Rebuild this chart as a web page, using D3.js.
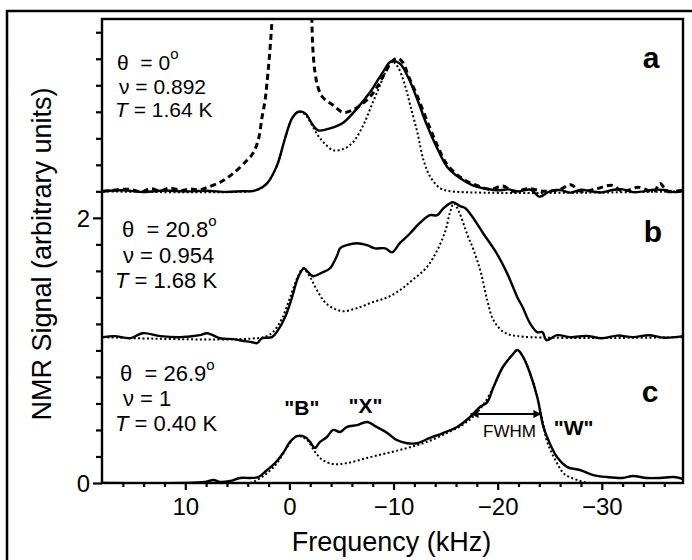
<!DOCTYPE html>
<html>
<head>
<meta charset="utf-8">
<script src="https://cdn.jsdelivr.net/npm/d3@7"></script>
<style>
  html, body { margin: 0; padding: 0; background: #fff; }
  svg { display: block; font-family: "Liberation Sans", Arial, Helvetica, sans-serif; }
</style>
</head>
<body>
<svg id="chart" width="692" height="560"></svg>
<script>
// ---------------- DATA ----------------
const xDomain = [18, -37.8];
const yDomain = [0, 3.5];
const xMajorTicks = [10, 0, -10, -20, -30];
const xMinorTicks = [16, 14, 12, 8, 6, 4, 2, -2, -4, -6, -8, -12, -14, -16, -18, -22, -24, -26, -28, -32, -34, -36];
const yTickValues = [0, 0.2, 0.4, 0.6, 0.8, 1.0, 1.2, 1.4, 1.6, 1.8, 2.0, 2.2, 2.4, 2.6, 2.8, 3.0, 3.2, 3.4];
const yTickLabels = { 0: "0", 2: "2" };

// vertical offsets of spectra a, b, c
const offsets = { a: 2.2, b: 1.1, c: 0 };

// spectrum a: [frequency kHz, signal]
const aSolid = [[17.9,0],[16,0.008],[14,-0.005],[12,0.006],[10,0],[8,0.004],[6,-0.004],[4.5,0.002],[3.8,0],[3.0,0.015],[2.15,0.06],[1.19,0.196],[0.42,0.40],[-0.25,0.55],[-0.83,0.60],[-1.5,0.59],[-2.17,0.51],[-2.75,0.46],[-3.9,0.475],[-5.2,0.52],[-6.5,0.626],[-7.74,0.747],[-8.9,0.89],[-9.76,0.98],[-10.6,0.965],[-11.4,0.86],[-12.25,0.70],[-13.2,0.50],[-14.2,0.324],[-15.2,0.18],[-16.4,0.098],[-17.6,0.045],[-18.6,0.023],[-20.2,0.008],[-21,0.015],[-22,0.0],[-23.2,0.012],[-24,-0.04],[-25,0.0],[-26,0.01],[-27,-0.01],[-28,0.012],[-29,0.0],[-30,-0.008],[-31,0.01],[-32,0.015],[-33,-0.006],[-34,0.0],[-35,0.012],[-36,0.01],[-37,-0.006],[-37.8,0.0]];
const aDotted = [[17.9,0],[3.8,0],[3.0,0.015],[2.15,0.06],[1.19,0.196],[0.42,0.40],[-0.25,0.55],[-0.83,0.60],[-1.5,0.58],[-2.17,0.50],[-2.75,0.42],[-3.4,0.36],[-4.2,0.31],[-5.2,0.32],[-6.1,0.37],[-7.1,0.50],[-7.9,0.65],[-8.7,0.80],[-9.4,0.93],[-9.85,0.98],[-10.4,0.94],[-11.1,0.80],[-11.6,0.65],[-12.3,0.44],[-12.9,0.23],[-13.6,0.10],[-14.5,0.023],[-15.6,0],[-37.8,0]];
const aDashed = [[17.9,0],[16.5,0.012],[15.3,0.015],[14.2,-0.004],[13.4,0.02],[12.4,0.004],[11.5,0.025],[10.4,0.006],[9.5,0.018],[8.7,0.01],[7.9,0.03],[6.67,0.068],[5.4,0.136],[4.07,0.234],[3.5,0.287],[3.0,0.385],[2.63,0.558],[2.34,0.686],[2.15,0.822],[1.86,1.078],[1.6,1.4],[1.45,1.9],[-0.25,2.8],[-1.95,1.9],[-2.12,1.4],[-2.25,1.078],[-2.46,0.897],[-2.75,0.784],[-3.2,0.709],[-4.2,0.649],[-5.15,0.596],[-6.0,0.611],[-6.8,0.649],[-7.7,0.709],[-8.4,0.784],[-9.2,0.897],[-9.95,0.988],[-10.4,1.003],[-10.9,0.973],[-11.4,0.875],[-12.25,0.724],[-13.2,0.535],[-14.2,0.347],[-15.2,0.196],[-16.7,0.09],[-18.0,0.045],[-19.3,0.015],[-20.5,0.04],[-21.5,0.0],[-23,0.02],[-24.5,0.0],[-26,0.015],[-27,0.05],[-28,0.0],[-29.5,0.02],[-31,0.045],[-32,0.0],[-33.5,0.03],[-35,0.0],[-35.6,0.06],[-36.3,0.0],[-37.8,0.01]];

// spectrum b
const bSolid = [[17.9,0],[16.8,0.008],[15.3,-0.008],[14.1,0.03],[12.4,0.008],[10.5,0],[8.6,0.015],[7.9,0.03],[6.67,-0.008],[5.4,-0.015],[4.26,-0.03],[3.6,-0.038],[3.1,-0.045],[2.63,-0.008],[1.67,0],[1.1,0.053],[0.42,0.15],[-0.25,0.30],[-0.83,0.45],[-1.4,0.52],[-1.8,0.49],[-2.27,0.46],[-3.2,0.49],[-3.9,0.52],[-4.6,0.62],[-4.86,0.67],[-5.5,0.694],[-6.5,0.709],[-7.45,0.694],[-8.2,0.67],[-9.2,0.67],[-9.86,0.64],[-10.6,0.709],[-11.6,0.784],[-12.5,0.86],[-13.5,0.92],[-14.2,0.92],[-14.8,0.973],[-15.7,1.018],[-16.4,0.988],[-16.9,0.973],[-17.6,0.905],[-18.6,0.784],[-19.9,0.633],[-20.9,0.483],[-21.9,0.30],[-22.4,0.226],[-23.1,0.106],[-23.8,0.038],[-24.3,0.038],[-24.7,-0.023],[-25.7,0.015],[-27.0,0],[-28.5,0.01],[-30,-0.008],[-31.5,0.012],[-33,0.0],[-34.5,0.015],[-36,-0.004],[-37.8,0.008]];
const bDotted = [[17.9,0],[2.5,0],[1.6,0.038],[0.7,0.143],[-0.06,0.30],[-0.83,0.46],[-1.3,0.52],[-2.0,0.45],[-2.65,0.354],[-3.4,0.264],[-4.2,0.219],[-5.15,0.196],[-6.5,0.219],[-8.0,0.264],[-9.4,0.30],[-10.6,0.354],[-11.8,0.43],[-13.2,0.528],[-14.2,0.656],[-15.0,0.807],[-15.4,0.935],[-15.8,1.01],[-16.3,0.943],[-17.1,0.77],[-17.7,0.656],[-18.4,0.483],[-19.0,0.279],[-19.6,0.128],[-20.6,0.038],[-21.9,0.008],[-37.8,0]];

// spectrum c
const cSolid = [[17.9,0],[8.1,0.008],[7.3,0.023],[6.67,0.008],[5.7,0.015],[4.74,0.038],[3.78,0.038],[3.0,0.045],[2.15,0.098],[1.38,0.15],[0.6,0.226],[-0.06,0.31],[-0.73,0.354],[-1.5,0.347],[-1.98,0.31],[-2.46,0.264],[-2.94,0.31],[-3.6,0.347],[-4.2,0.40],[-4.86,0.385],[-5.5,0.422],[-6.5,0.437],[-7.45,0.46],[-8.4,0.422],[-9.4,0.377],[-10.3,0.324],[-11.3,0.30],[-12.25,0.30],[-13.5,0.34],[-14.75,0.377],[-16.1,0.422],[-17.35,0.498],[-18.3,0.573],[-19.0,0.61],[-19.6,0.724],[-20.5,0.875],[-21.4,0.965],[-21.9,1.003],[-22.45,0.95],[-23.1,0.83],[-23.8,0.649],[-24.4,0.422],[-25.0,0.30],[-25.7,0.196],[-26.7,0.12],[-27.9,0.098],[-29.2,0.06],[-30.5,0.045],[-32.0,0.038],[-33.0,0.053],[-34.3,0.038],[-35.6,0.038],[-36.9,0.045],[-37.8,0.03]];
const cDotted = [[8,0],[3.8,0],[3.1,0.023],[2.15,0.075],[1.19,0.15],[0.23,0.27],[-0.54,0.347],[-1.0,0.354],[-1.7,0.324],[-2.46,0.234],[-3.2,0.173],[-4.2,0.143],[-5.5,0.15],[-7.45,0.189],[-9.4,0.226],[-11.3,0.264],[-13.2,0.31],[-15.1,0.377],[-16.6,0.437],[-17.6,0.498],[-18.6,0.588],[-19.6,0.724],[-20.5,0.875],[-21.4,0.965],[-21.9,1.003],[-22.45,0.95],[-23.1,0.83],[-23.8,0.649],[-24.3,0.475],[-24.7,0.324],[-25.2,0.226],[-25.8,0.136],[-26.4,0.068],[-27.4,0.03],[-28.8,0],[-37.8,0]];

// FWHM arrow of spectrum c [left freq, right freq, level]
const fwhm = [-17.4, -24.2, 0.52];

// text annotations
const panelLetters = ["a", "b", "c"];
const paramLines = {
  a: [["θ", "  = 0", "o"], ["ν", " = 0.892"], ["T", " = 1.64 K"]],
  b: [["θ", "  = 20.8", "o"], ["ν", " = 0.954"], ["T", " = 1.68 K"]],
  c: [["θ", "  = 26.9", "o"], ["ν", " = 1"], ["T", " = 0.40 K"]]
};
const peakLabels = [["\"B\"", -1.2, 0.51], ["\"X\"", -7.3, 0.527], ["\"W\"", -27.3, 0.36]];

// ---------------- DRAW ----------------
const svg = d3.select("#chart");
const W = 692, H = 560;
const plot = { left: 102, right: 683, top: 19, bottom: 483 };

const x = d3.scaleLinear().domain(xDomain).range([plot.left, plot.right]);
const y = d3.scaleLinear().domain(yDomain).range([plot.bottom, plot.top]);

svg.append("rect").attr("width", W).attr("height", H).attr("fill", "#fff");

// outer frame
svg.append("rect").attr("x", 7).attr("y", 11).attr("width", 700).attr("height", 600)
  .attr("fill", "none").attr("stroke", "#000").attr("stroke-width", 2.5);

svg.append("clipPath").attr("id", "clip").append("rect")
  .attr("x", plot.left).attr("y", plot.top)
  .attr("width", plot.right - plot.left).attr("height", plot.bottom - plot.top);

// axes
const xAxisMajor = d3.axisBottom(x).tickValues(xMajorTicks).tickSize(7).tickPadding(8).tickFormat(d3.format("d"));
const xAxisMinor = d3.axisBottom(x).tickValues(xMinorTicks).tickSize(4).tickFormat("");
const yAxis = d3.axisLeft(y).tickValues(yTickValues)
  .tickSize(6).tickPadding(6).tickFormat(d => yTickLabels[Math.round(d * 10) / 10] || "");

const gxMinor = svg.append("g").attr("transform", `translate(0,${plot.bottom})`).call(xAxisMinor);
const gx = svg.append("g").attr("transform", `translate(0,${plot.bottom})`).call(xAxisMajor);
const gy = svg.append("g").attr("transform", `translate(${plot.left},0)`).call(yAxis);

[gx, gxMinor, gy].forEach(g => {
  g.select(".domain").remove();
  g.selectAll(".tick line").attr("stroke", "#000").attr("stroke-width", 2.2);
});
gx.selectAll(".tick text").attr("font-size", 24).attr("fill", "#000").attr("dy", "0.72em");
gy.selectAll(".tick text").attr("font-size", 24).attr("fill", "#000").attr("dy", "0.36em");
gy.selectAll(".tick").filter(d => Math.abs(d) < 1e-9 || Math.abs(d - 2) < 1e-9)
  .select("line").attr("x2", -9);

// plot frame
svg.append("rect").attr("x", plot.left).attr("y", plot.top)
  .attr("width", plot.right - plot.left).attr("height", plot.bottom - plot.top)
  .attr("fill", "none").attr("stroke", "#000").attr("stroke-width", 2.4);

// axis titles
svg.append("text").attr("x", (plot.left + plot.right) / 2 - 1).attr("y", 551)
  .attr("text-anchor", "middle").attr("font-size", 27).text("Frequency (kHz)");
svg.append("text").attr("transform", `translate(51,${(plot.top + plot.bottom) / 2 + 3}) rotate(-90)`)
  .attr("text-anchor", "middle").attr("font-size", 27).text("NMR Signal (arbitrary units)");

// curves
const curves = svg.append("g").attr("clip-path", "url(#clip)");
function drawCurve(data, off, style) {
  const line = d3.line().x(d => x(d[0])).y(d => y(d[1] + off)).curve(d3.curveCatmullRom.alpha(0.5));
  curves.append("path").datum(data).attr("d", line)
    .attr("fill", "none").attr("stroke", "#000")
    .attr("stroke-width", style.w).attr("stroke-dasharray", style.dash || null)
    .attr("stroke-linejoin", "round");
}
const SOLID = { w: 2.4 }, DOT = { w: 2, dash: "2,2.4" }, DASH = { w: 3, dash: "6,4" };
drawCurve(aDotted, offsets.a, DOT);
drawCurve(aDashed, offsets.a, DASH);
drawCurve(aSolid, offsets.a, SOLID);
drawCurve(bDotted, offsets.b, DOT);
drawCurve(bSolid, offsets.b, SOLID);
drawCurve(cDotted, offsets.c, DOT);
drawCurve(cSolid, offsets.c, SOLID);

// FWHM arrow
const defs = svg.append("defs");
defs.append("marker").attr("id", "ah").attr("viewBox", "0 0 10 10").attr("refX", 10).attr("refY", 5)
  .attr("markerWidth", 11).attr("markerHeight", 8).attr("markerUnits", "userSpaceOnUse").attr("orient", "auto-start-reverse")
  .append("path").attr("d", "M0,0 L10,5 L0,10 Z").attr("fill", "#000");
svg.append("line").attr("x1", x(fwhm[0])).attr("x2", x(fwhm[1]))
  .attr("y1", y(fwhm[2])).attr("y2", y(fwhm[2]))
  .attr("stroke", "#000").attr("stroke-width", 2)
  .attr("marker-start", "url(#ah)").attr("marker-end", "url(#ah)");
svg.append("text").attr("x", 483).attr("y", 437).attr("font-size", 17).text("FWHM");

// peak labels
peakLabels.forEach(([t, f, v]) => {
  svg.append("text").attr("x", x(f)).attr("y", y(v)).attr("text-anchor", "middle")
    .attr("font-size", 21).attr("font-weight", "bold").text(t);
});

// panel letters
const letterPos = { a: [651, 68], b: [653, 242], c: [650, 402] };
panelLetters.forEach(k => {
  svg.append("text").attr("x", letterPos[k][0]).attr("y", letterPos[k][1])
    .attr("text-anchor", "middle").attr("font-size", 30).attr("font-weight", "bold").text(k);
});

// parameter text blocks
const paramPos = {
  a: [[117, 70], [119, 93.5], [115, 117]],
  b: [[122, 237], [123, 263], [115, 288]],
  c: [[120, 381], [123, 406], [115, 431]]
};
const paramSize = { a: 21, b: 22, c: 22 };
Object.keys(paramLines).forEach(k => {
  paramLines[k].forEach((ln, i) => {
    const t = svg.append("text").attr("x", paramPos[k][i][0]).attr("y", paramPos[k][i][1])
      .attr("font-size", paramSize[k]).attr("xml:space", "preserve");
    t.append("tspan").attr("font-style", ln[0] === "T" ? "italic" : "normal").text(ln[0]);
    t.append("tspan").text(ln[1]);
    if (ln[2]) t.append("tspan").attr("font-size", 15).attr("dy", -11).text(ln[2]);
  });
});
</script>
</body>
</html>
